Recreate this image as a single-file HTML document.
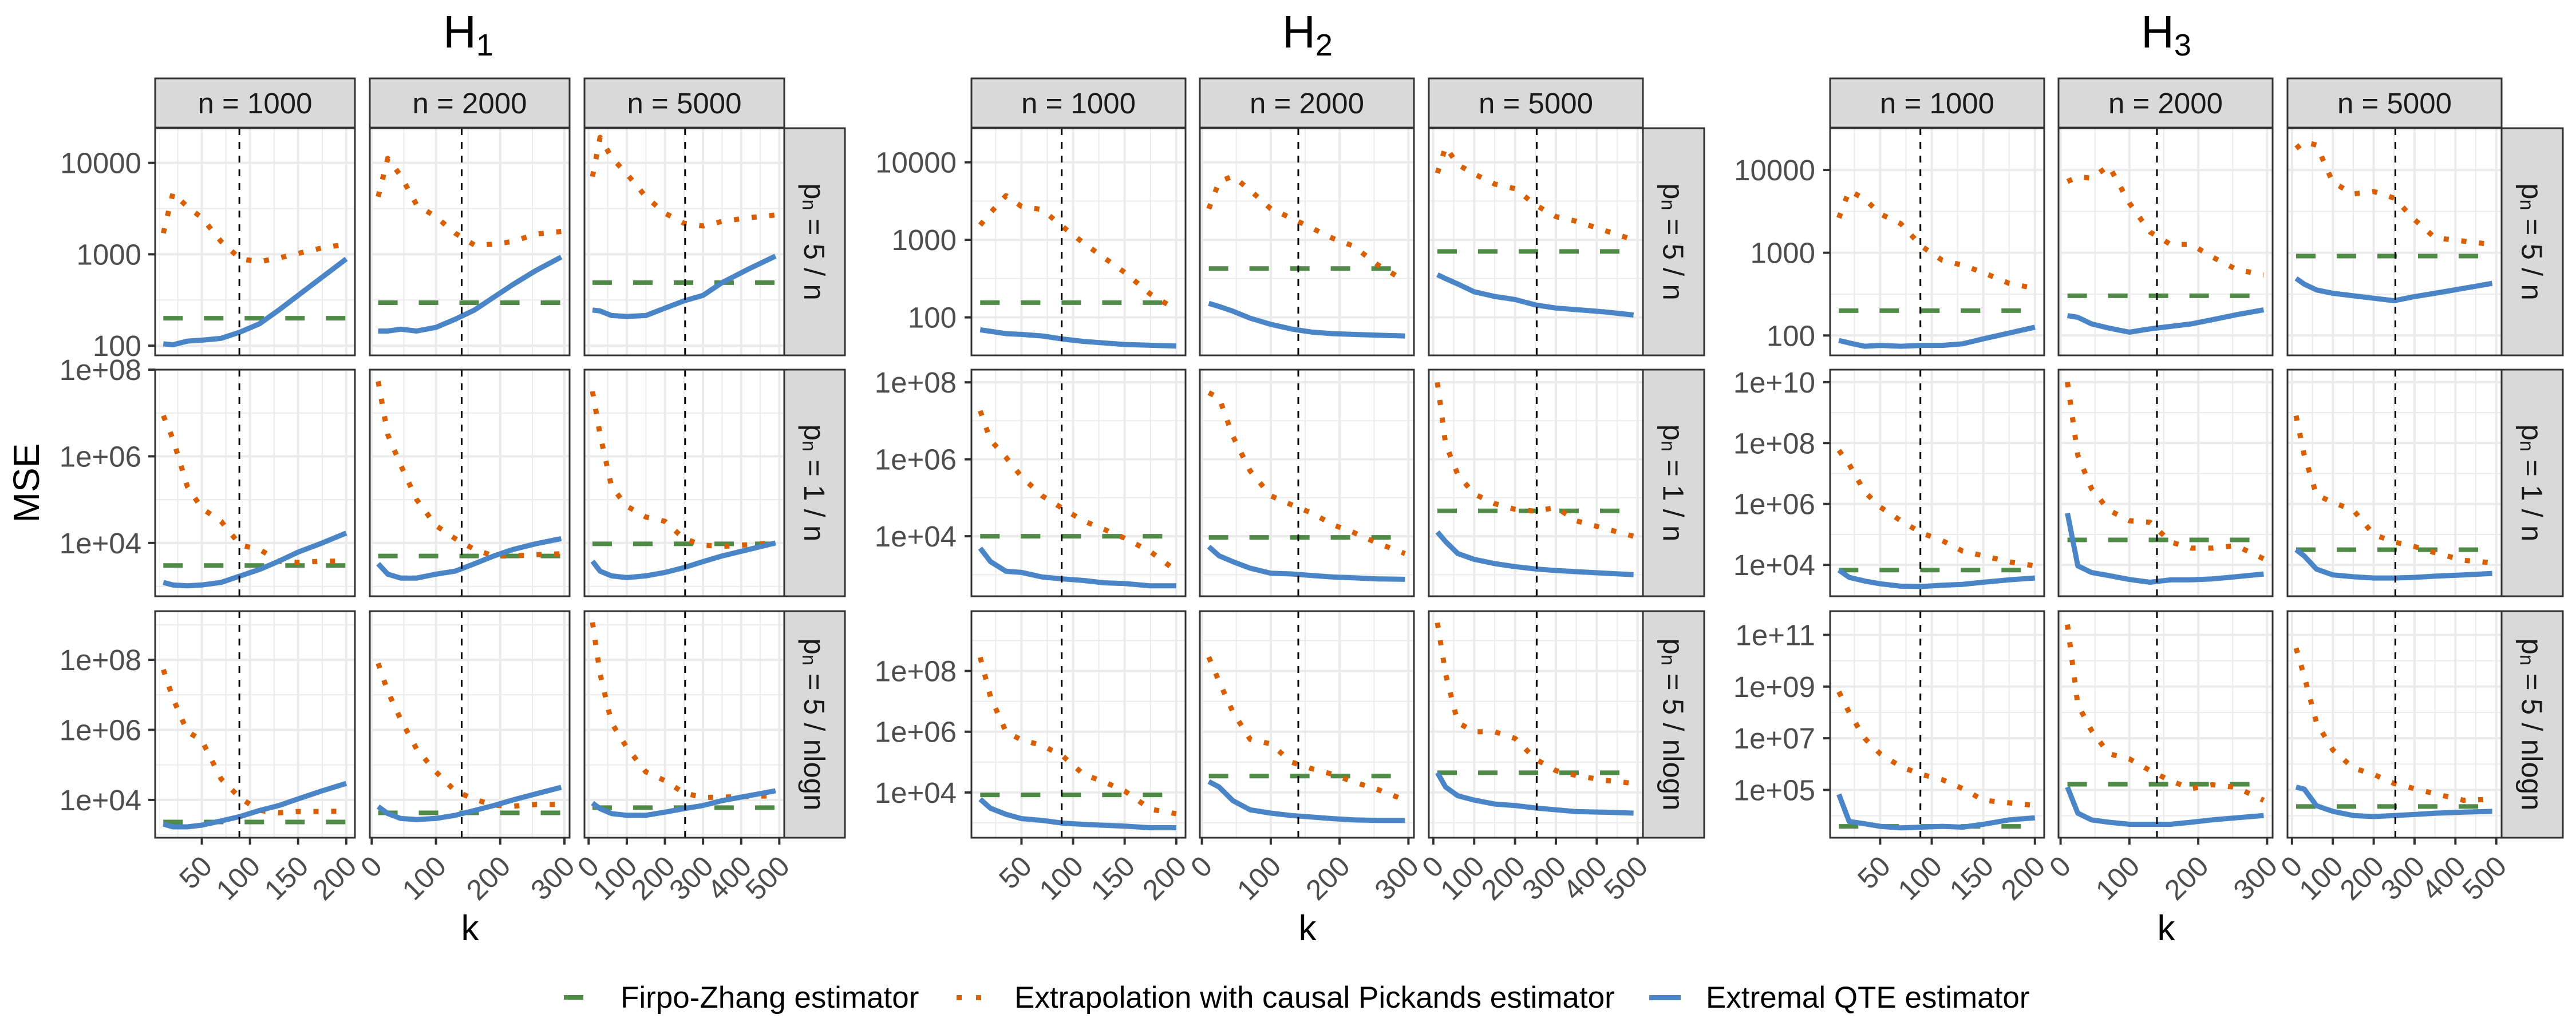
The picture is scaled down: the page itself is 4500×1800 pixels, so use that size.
<!DOCTYPE html>
<html>
<head>
<meta charset="utf-8">
<style>
  html,body{margin:0;padding:0;background:#ffffff;}
  svg{display:block;font-family:"Liberation Sans",Arial,sans-serif;}
</style>
</head>
<body>
<svg id="chart" width="4500" height="1800" viewBox="0 0 4500 1800" xmlns="http://www.w3.org/2000/svg">
  <rect x="0" y="0" width="4500" height="1800" fill="#ffffff"></rect>
</svg>
<script>
// ---------------- DATA (log10 of MSE) ----------------
const K_n1000 = [10,20,35,50,70,90,110,130,150,175,200];
const K_n2000 = [10,25,45,70,100,130,160,190,220,255,295];
const K_n5000 = [10,30,60,100,150,200,250,300,350,420,490];
const kOpt = [89,140,253];

// H1, p_n = 5/n
const qte_H1_r1_n1000 = [2.02,2.01,2.05,2.06,2.08,2.15,2.24,2.39,2.55,2.75,2.95];
const pick_H1_r1_n1000 = [3.23,3.67,3.52,3.40,3.14,2.95,2.92,2.96,3.01,3.07,3.11];
const fz_H1_r1_n1000 = 2.30;
const qte_H1_r1_n2000 = [2.16,2.16,2.18,2.16,2.20,2.29,2.39,2.53,2.67,2.82,2.97];
const pick_H1_r1_n2000 = [3.63,4.05,3.86,3.54,3.41,3.23,3.10,3.11,3.14,3.22,3.25];
const fz_H1_r1_n2000 = 2.47;
const qte_H1_r1_n5000 = [2.39,2.38,2.33,2.32,2.33,2.41,2.49,2.55,2.69,2.84,2.98];
const pick_H1_r1_n5000 = [3.85,4.28,4.06,3.88,3.63,3.45,3.34,3.31,3.36,3.40,3.43];
const fz_H1_r1_n5000 = 2.69;
// H1, p_n = 1/n
const qte_H1_r2_n1000 = [3.09,3.03,3.01,3.03,3.09,3.24,3.39,3.58,3.79,4.00,4.23];
const pick_H1_r2_n1000 = [6.94,6.40,5.30,4.80,4.50,3.95,3.85,3.58,3.55,3.58,3.58];
const fz_H1_r2_n1000 = 3.48;
const qte_H1_r2_n2000 = [3.52,3.28,3.19,3.19,3.28,3.35,3.52,3.70,3.85,3.98,4.10];
const pick_H1_r2_n2000 = [7.73,6.50,5.80,5.00,4.40,4.10,3.85,3.70,3.70,3.73,3.75];
const fz_H1_r2_n2000 = 3.70;
const qte_H1_r2_n5000 = [3.58,3.35,3.24,3.20,3.24,3.32,3.43,3.57,3.70,3.85,4.00];
const pick_H1_r2_n5000 = [7.50,6.50,5.30,4.85,4.60,4.50,4.10,3.95,3.92,3.96,4.00];
const fz_H1_r2_n5000 = 3.98;
// H1, p_n = 5/nlogn
const qte_H1_r3_n1000 = [3.31,3.23,3.23,3.28,3.40,3.53,3.70,3.84,4.03,4.26,4.47];
const pick_H1_r3_n1000 = [7.72,6.90,5.95,5.70,4.60,4.05,3.70,3.63,3.67,3.67,3.68];
const fz_H1_r3_n1000 = 3.37;
const qte_H1_r3_n2000 = [3.81,3.61,3.47,3.44,3.47,3.56,3.70,3.84,4.00,4.17,4.36];
const pick_H1_r3_n2000 = [7.90,7.10,6.30,5.45,4.80,4.25,4.02,3.85,3.82,3.87,3.87];
const fz_H1_r3_n2000 = 3.63;
const qte_H1_r3_n5000 = [3.91,3.75,3.61,3.56,3.56,3.65,3.75,3.84,3.98,4.12,4.26];
const pick_H1_r3_n5000 = [9.07,7.60,6.20,5.50,4.80,4.55,4.20,4.07,4.08,4.10,4.12];
const fz_H1_r3_n5000 = 3.78;

// H2
const qte_H2_r1_n1000 = [1.84,1.82,1.79,1.78,1.76,1.72,1.69,1.67,1.65,1.64,1.63];
const pick_H2_r1_n1000 = [3.19,3.35,3.57,3.43,3.39,3.17,2.96,2.77,2.58,2.30,2.10];
const fz_H2_r1_n1000 = 2.19;
const qte_H2_r1_n2000 = [2.18,2.14,2.08,1.99,1.91,1.85,1.81,1.79,1.78,1.77,1.76];
const pick_H2_r1_n2000 = [3.40,3.75,3.82,3.64,3.40,3.28,3.15,3.02,2.92,2.68,2.47];
const fz_H2_r1_n2000 = 2.63;
const qte_H2_r1_n5000 = [2.55,2.50,2.43,2.33,2.27,2.23,2.16,2.12,2.10,2.07,2.03];
const pick_H2_r1_n5000 = [3.86,4.20,3.97,3.85,3.72,3.66,3.45,3.30,3.24,3.12,3.00];
const fz_H2_r1_n5000 = 2.85;
const qte_H2_r2_n1000 = [3.69,3.34,3.09,3.06,2.94,2.89,2.85,2.79,2.77,2.71,2.71];
const pick_H2_r2_n1000 = [7.26,6.50,6.05,5.55,5.05,4.72,4.40,4.18,3.95,3.60,3.10];
const fz_H2_r2_n1000 = 4.00;
const qte_H2_r2_n2000 = [3.73,3.49,3.34,3.17,3.04,3.02,2.98,2.94,2.92,2.89,2.88];
const pick_H2_r2_n2000 = [7.73,7.60,6.60,5.70,5.05,4.82,4.60,4.30,4.10,3.82,3.55];
const fz_H2_r2_n2000 = 3.97;
const qte_H2_r2_n5000 = [4.11,3.86,3.55,3.40,3.29,3.21,3.15,3.11,3.08,3.04,3.00];
const pick_H2_r2_n5000 = [8.00,6.40,5.60,5.10,4.85,4.70,4.65,4.75,4.40,4.20,4.00];
const fz_H2_r2_n5000 = 4.66;
const qte_H2_r3_n1000 = [3.78,3.48,3.28,3.14,3.08,2.99,2.95,2.92,2.89,2.84,2.84];
const pick_H2_r3_n1000 = [8.45,7.15,6.00,5.73,5.55,5.20,4.60,4.35,4.05,3.45,3.30];
const fz_H2_r3_n1000 = 3.92;
const qte_H2_r3_n2000 = [4.36,4.18,3.73,3.43,3.32,3.24,3.19,3.14,3.10,3.08,3.08];
const pick_H2_r3_n2000 = [8.46,7.65,6.65,5.75,5.60,5.00,4.78,4.60,4.35,4.10,3.75];
const fz_H2_r3_n2000 = 4.54;
const qte_H2_r3_n5000 = [4.65,4.18,3.89,3.75,3.62,3.57,3.49,3.43,3.37,3.35,3.32];
const pick_H2_r3_n5000 = [9.59,7.90,6.30,6.00,6.00,5.78,5.10,4.72,4.56,4.40,4.30];
const fz_H2_r3_n5000 = 4.65;

// H3
const qte_H3_r1_n1000 = [1.94,1.91,1.87,1.88,1.87,1.88,1.88,1.90,1.96,2.03,2.10];
const pick_H3_r1_n1000 = [3.42,3.75,3.65,3.47,3.35,3.08,2.91,2.85,2.76,2.63,2.57];
const fz_H3_r1_n1000 = 2.30;
const qte_H3_r1_n2000 = [2.24,2.22,2.14,2.09,2.04,2.08,2.11,2.14,2.19,2.25,2.31];
const pick_H3_r1_n2000 = [3.86,3.92,3.90,4.05,3.60,3.25,3.10,3.10,2.95,2.80,2.73];
const fz_H3_r1_n2000 = 2.48;
const qte_H3_r1_n5000 = [2.69,2.62,2.55,2.51,2.48,2.45,2.42,2.47,2.51,2.57,2.63];
const pick_H3_r1_n5000 = [4.26,4.34,4.30,3.85,3.71,3.74,3.66,3.40,3.18,3.14,3.10];
const fz_H3_r1_n5000 = 2.96;
const qte_H3_r2_n1000 = [3.83,3.59,3.47,3.38,3.30,3.29,3.33,3.36,3.43,3.51,3.57];
const pick_H3_r2_n1000 = [7.76,7.30,6.40,5.90,5.45,5.05,4.80,4.45,4.30,4.10,3.97];
const fz_H3_r2_n1000 = 3.83;
const qte_H3_r2_n2000 = [5.70,3.97,3.75,3.65,3.52,3.43,3.51,3.51,3.54,3.61,3.70];
const pick_H3_r2_n2000 = [10.00,7.60,6.50,5.80,5.45,5.40,4.75,4.55,4.55,4.63,4.20];
const fz_H3_r2_n2000 = 4.82;
const qte_H3_r2_n5000 = [4.50,4.29,3.86,3.67,3.61,3.57,3.57,3.59,3.63,3.67,3.72];
const pick_H3_r2_n5000 = [8.90,7.60,6.30,6.05,5.80,5.00,4.75,4.60,4.40,4.15,4.07];
const fz_H3_r2_n5000 = 4.50;
const qte_H3_r3_n1000 = [4.83,3.78,3.69,3.59,3.53,3.56,3.59,3.56,3.67,3.84,3.92];
const pick_H3_r3_n1000 = [8.80,8.00,7.00,6.40,5.90,5.60,5.40,5.05,4.60,4.50,4.40];
const fz_H3_r3_n1000 = 3.59;
const qte_H3_r3_n2000 = [5.11,4.10,3.84,3.75,3.67,3.67,3.67,3.75,3.84,3.92,4.01];
const pick_H3_r3_n2000 = [11.40,8.30,7.30,6.40,6.20,5.75,5.35,5.05,5.20,5.10,4.60];
const fz_H3_r3_n2000 = 5.22;
const qte_H3_r3_n5000 = [5.11,5.03,4.39,4.17,4.01,3.97,4.01,4.05,4.10,4.14,4.17];
const pick_H3_r3_n5000 = [10.49,9.40,7.60,6.55,5.85,5.60,5.25,5.05,4.85,4.60,4.64];
const fz_H3_r3_n5000 = 4.36;

const colLabels = ["n = 1000","n = 2000","n = 5000"];
const rowLabels = ["5 / n","1 / n","5 / nlogn"];
const xTicks1 = [50,100,150,200];
const xTicks2 = [0,100,200,300];
const xTicks3 = [0,100,200,300,400,500];
const yTicksR1 = [2,3,4];
const yTickLabelsR1 = ["100","1000","10000"];
const yTicks_H1_r2 = [4,6,8];
const yTicks_H1_r3 = [4,6,8];
const yTicks_H2_r2 = [4,6,8];
const yTicks_H2_r3 = [4,6,8];
const yTicks_H3_r2 = [4,6,8,10];
const yTicks_H3_r3 = [5,7,9,11];

// ---------------- LAYOUT ----------------
const NS = "http://www.w3.org/2000/svg";
const svg = document.getElementById("chart");
const ROWS_Y = [[224,621],[646,1042],[1068,1464]];
const XDOM = [[1.5,209],[-3,308],[-11,513]];
const XMINOR = [[25,75,125,175],[50,150,250],[50,150,250,350,450]];
const H = [
  {name:"H", sub:"1", titleX:818, kX:821, ylabR:247, stripW:106,
   px:[[271,620],[646,995],[1021,1370]],
   ydom:[[1.894,4.38],[2.77,8.0],[2.92,9.39]],
   yt:[yTicksR1,yTicks_H1_r2,yTicks_H1_r3]},
  {name:"H", sub:"2", titleX:2284, kX:2284, ylabR:1671, stripW:107,
   px:[[1697,2071],[2096,2470],[2496,2870]],
   ydom:[[1.51,4.44],[2.44,8.33],[2.51,9.97]],
   yt:[yTicksR1,yTicks_H2_r2,yTicks_H2_r3]},
  {name:"H", sub:"3", titleX:3784, kX:3784, ylabR:3171, stripW:107,
   px:[[3197,3571],[3596,3970],[3996,4370]],
   ydom:[[1.76,4.505],[2.97,10.41],[3.15,11.92]],
   yt:[yTicksR1,yTicks_H3_r2,yTicks_H3_r3]}
];
const DATA = {
  H1:[[[qte_H1_r1_n1000,pick_H1_r1_n1000,fz_H1_r1_n1000],[qte_H1_r1_n2000,pick_H1_r1_n2000,fz_H1_r1_n2000],[qte_H1_r1_n5000,pick_H1_r1_n5000,fz_H1_r1_n5000]],
      [[qte_H1_r2_n1000,pick_H1_r2_n1000,fz_H1_r2_n1000],[qte_H1_r2_n2000,pick_H1_r2_n2000,fz_H1_r2_n2000],[qte_H1_r2_n5000,pick_H1_r2_n5000,fz_H1_r2_n5000]],
      [[qte_H1_r3_n1000,pick_H1_r3_n1000,fz_H1_r3_n1000],[qte_H1_r3_n2000,pick_H1_r3_n2000,fz_H1_r3_n2000],[qte_H1_r3_n5000,pick_H1_r3_n5000,fz_H1_r3_n5000]]],
  H2:[[[qte_H2_r1_n1000,pick_H2_r1_n1000,fz_H2_r1_n1000],[qte_H2_r1_n2000,pick_H2_r1_n2000,fz_H2_r1_n2000],[qte_H2_r1_n5000,pick_H2_r1_n5000,fz_H2_r1_n5000]],
      [[qte_H2_r2_n1000,pick_H2_r2_n1000,fz_H2_r2_n1000],[qte_H2_r2_n2000,pick_H2_r2_n2000,fz_H2_r2_n2000],[qte_H2_r2_n5000,pick_H2_r2_n5000,fz_H2_r2_n5000]],
      [[qte_H2_r3_n1000,pick_H2_r3_n1000,fz_H2_r3_n1000],[qte_H2_r3_n2000,pick_H2_r3_n2000,fz_H2_r3_n2000],[qte_H2_r3_n5000,pick_H2_r3_n5000,fz_H2_r3_n5000]]],
  H3:[[[qte_H3_r1_n1000,pick_H3_r1_n1000,fz_H3_r1_n1000],[qte_H3_r1_n2000,pick_H3_r1_n2000,fz_H3_r1_n2000],[qte_H3_r1_n5000,pick_H3_r1_n5000,fz_H3_r1_n5000]],
      [[qte_H3_r2_n1000,pick_H3_r2_n1000,fz_H3_r2_n1000],[qte_H3_r2_n2000,pick_H3_r2_n2000,fz_H3_r2_n2000],[qte_H3_r2_n5000,pick_H3_r2_n5000,fz_H3_r2_n5000]],
      [[qte_H3_r3_n1000,pick_H3_r3_n1000,fz_H3_r3_n1000],[qte_H3_r3_n2000,pick_H3_r3_n2000,fz_H3_r3_n2000],[qte_H3_r3_n5000,pick_H3_r3_n5000,fz_H3_r3_n5000]]]
};
const KS = [K_n1000,K_n2000,K_n5000];
const XT = [xTicks1,xTicks2,xTicks3];
const GREEN = "#4f8a47", ORANGE = "#d95f02", BLUE = "#4a85c8";

function mk(tag, attrs, parent){
  const el = document.createElementNS(NS, tag);
  for (const a in attrs) el.setAttribute(a, attrs[a]);
  (parent || svg).appendChild(el);
  return el;
}
function xScale(h, c, k){
  const [a,b] = H[h].px[c]; const [d0,d1] = XDOM[c];
  return a + (k - d0) / (d1 - d0) * (b - a);
}
function yScale(h, r, v){
  const [top,bot] = ROWS_Y[r]; const [lo,hi] = H[h].ydom[r];
  return bot - (v - lo) / (hi - lo) * (bot - top);
}
function expLabel(e){ return "1e+" + (e < 10 ? "0" + e : "" + e); }

const defs = mk("defs", {});

H.forEach((hc, h) => {
  const t = mk("text", {x: hc.titleX, y: 83, "font-size": 80, "text-anchor": "middle", fill: "#000"});
  
  
  t.textContent = hc.name;
  const ts = mk("tspan", {"font-size": 54, dy: 14}, t);
  ts.textContent = hc.sub;

  const kt = mk("text", {x: hc.kX, y: 1643, "font-size": 62, "text-anchor": "middle", fill: "#000"});
  
  
  kt.textContent = "k";

  for (let c = 0; c < 3; c++){
    const [a,b] = hc.px[c];
    const s = mk("rect", {x: a, y: 137, width: b - a, height: 86, fill: "#d9d9d9", stroke: "#333333", "stroke-width": 3});
    
    
    const st = mk("text", {x: (a + b) / 2, y: 198, "font-size": 51, "text-anchor": "middle", fill: "#1a1a1a"});
    
    
    st.textContent = colLabels[c];
  }

  for (let r = 0; r < 3; r++){
    const [top, bot] = ROWS_Y[r];
    const sx = hc.px[2][1];
    const rs = mk("rect", {x: sx, y: top, width: hc.stripW, height: bot - top, fill: "#d9d9d9", stroke: "#333333", "stroke-width": 3});
    
    
    const cx = sx + hc.stripW / 2, cy = (top + bot) / 2;
    const rt = mk("text", {x: cx, y: cy, "font-size": 51, "text-anchor": "middle", fill: "#1a1a1a",
      "dominant-baseline": "central", transform: "rotate(90 " + cx + " " + cy + ")"});
    
    
    const p1 = mk("tspan", {}, rt); p1.textContent = "p";
    const p2 = mk("tspan", {"font-size": 34, dy: 10}, rt); p2.textContent = "n";
    const p3 = mk("tspan", {dy: -10}, rt); p3.textContent = " = " + rowLabels[r];

    const [lo, hi] = hc.ydom[r];
    const majors = hc.yt[r];
    const step = majors.length > 1 ? majors[1] - majors[0] : 1;
    const minors = [];
    for (let v = Math.floor(lo) - 1; v <= hi + 1; v += 0.5){
      const isMajor = majors.some(m => Math.abs(m - v) < 1e-9);
      const onGrid = step === 1 ? (Math.abs(v % 1 - 0.5) < 1e-9) : (Math.abs(v % 1) < 1e-9 && !isMajor);
      if (onGrid && v >= lo && v <= hi) minors.push(v);
    }

    for (let c = 0; c < 3; c++){
      const [a, b] = hc.px[c];
      const g = mk("g", {});
      
      
      const cid = "clip" + h + r + c;
      const cp = mk("clipPath", {id: cid}, defs);
      mk("rect", {x: a, y: top, width: b - a, height: bot - top}, cp);
      mk("rect", {x: a, y: top, width: b - a, height: bot - top, fill: "#ffffff"}, g);
      minors.forEach(v => {
        const y = yScale(h, r, v);
        const l = mk("line", {x1: a, x2: b, y1: y, y2: y, stroke: "#ebebeb", "stroke-width": 2}, g);
        
        
      });
      XMINOR[c].forEach(k => {
        const x = xScale(h, c, k);
        const l = mk("line", {x1: x, x2: x, y1: top, y2: bot, stroke: "#ebebeb", "stroke-width": 2}, g);
        
        
      });
      majors.forEach(v => {
        const y = yScale(h, r, v);
        if (y < top - 1 || y > bot + 1) return;
        const l = mk("line", {x1: a, x2: b, y1: y, y2: y, stroke: "#ebebeb", "stroke-width": 4}, g);
        
        
      });
      XT[c].forEach(k => {
        const x = xScale(h, c, k);
        const l = mk("line", {x1: x, x2: x, y1: top, y2: bot, stroke: "#ebebeb", "stroke-width": 4}, g);
        
        
      });

      const K = KS[c];
      const [qte, pick, fz] = DATA["H" + hc.sub][r][c];
      const dg = mk("g", {"clip-path": "url(#" + cid + ")"}, g);
      const yf = yScale(h, r, fz);
      const fl = mk("line", {x1: xScale(h, c, K[0]), x2: xScale(h, c, K[K.length - 1]), y1: yf, y2: yf,
        stroke: GREEN, "stroke-width": 8, "stroke-dasharray": "34 37"}, dg);
      
      
      const pp = pick.map((v, i) => xScale(h, c, K[i]).toFixed(1) + "," + yScale(h, r, v).toFixed(1)).join(" ");
      const pl = mk("polyline", {points: pp, fill: "none", stroke: ORANGE, "stroke-width": 9, "stroke-dasharray": "9 22", "stroke-linejoin": "round"}, dg);
      
      
      const qp = qte.map((v, i) => xScale(h, c, K[i]).toFixed(1) + "," + yScale(h, r, v).toFixed(1)).join(" ");
      const ql = mk("polyline", {points: qp, fill: "none", stroke: BLUE, "stroke-width": 9, "stroke-linejoin": "round"}, dg);
      
      
      const xv = xScale(h, c, kOpt[c]);
      const vl = mk("line", {x1: xv, x2: xv, y1: top, y2: bot, stroke: "#000", "stroke-width": 3, "stroke-dasharray": "12 12"}, g);
      
      
      const br = mk("rect", {x: a, y: top, width: b - a, height: bot - top, fill: "none", stroke: "#333333", "stroke-width": 3}, g);
      
      

      if (r === 2){
        XT[c].forEach(k => {
          const x = xScale(h, c, k);
          const tm = mk("line", {x1: x, x2: x, y1: bot, y2: bot + 12, stroke: "#333333", "stroke-width": 4});
          
          
          const ax = x + 21, ay = 1517;
          const tl = mk("text", {x: ax, y: ay, "font-size": 50, "text-anchor": "end", fill: "#4d4d4d",
            transform: "rotate(-45 " + ax + " " + ay + ")"});
          
          
          tl.textContent = String(k);
        });
      }
    }

    majors.forEach((v, i) => {
      const y = yScale(h, r, v);
      if (y < top - 2 || y > bot + 2) return;
      const a = hc.px[0][0];
      const tm = mk("line", {x1: a - 12, x2: a, y1: y, y2: y, stroke: "#333333", "stroke-width": 4});
      
      
      const tl = mk("text", {x: hc.ylabR, y: y + 18, "font-size": 51, "text-anchor": "end", fill: "#4d4d4d"});
      
      
      tl.textContent = r === 0 ? yTickLabelsR1[i] : expLabel(v);
    });
  }
});

const yt = mk("text", {x: 46, y: 844, "font-size": 64, "text-anchor": "middle", "dominant-baseline": "central", fill: "#000",
  transform: "rotate(-90 46 844)"});


yt.textContent = "MSE";

const lg = mk("g", {});


const lk1 = mk("rect", {x: 985, y: 1739, width: 34, height: 8, fill: GREEN}, lg);


const lt1 = mk("text", {x: 1084, y: 1761, "font-size": 53, fill: "#000"}, lg);


lt1.textContent = "Firpo-Zhang estimator";
const lk2a = mk("rect", {x: 1671, y: 1739, width: 9, height: 9, fill: ORANGE}, lg);


const lk2b = mk("rect", {x: 1705, y: 1739, width: 9, height: 9, fill: ORANGE}, lg);


const lt2 = mk("text", {x: 1772, y: 1761, "font-size": 53, fill: "#000"}, lg);


lt2.textContent = "Extrapolation with causal Pickands estimator";
const lk3 = mk("rect", {x: 2881, y: 1739, width: 55, height: 9, fill: BLUE}, lg);


const lt3 = mk("text", {x: 2980, y: 1761, "font-size": 53, fill: "#000"}, lg);


lt3.textContent = "Extremal QTE estimator";
</script>
</body>
</html>
